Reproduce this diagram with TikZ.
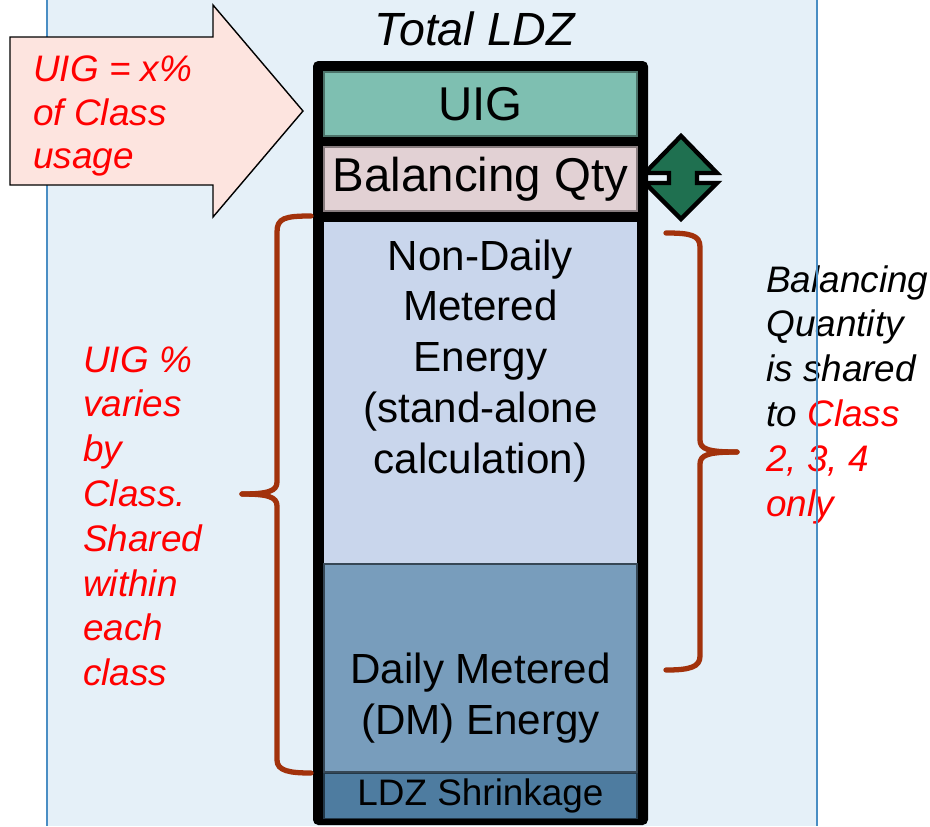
\documentclass[tikz,border=0pt]{standalone}
\usepackage{fontspec}
\setmainfont{Liberation Sans}
\definecolor{panelblue}{HTML}{E5F0F8}
\definecolor{panelline}{HTML}{4A8EC4}
\definecolor{uigteal}{HTML}{7EBFB1}
\definecolor{balpink}{HTML}{E2D1D4}
\definecolor{ndmblue}{HTML}{C9D6EC}
\definecolor{dmblue}{HTML}{789DBC}
\definecolor{shrblue}{HTML}{4E7CA0}
\definecolor{arrowpink}{HTML}{FDE4DF}
\definecolor{bracered}{HTML}{A2320C}
\definecolor{qtygreen}{HTML}{1F7050}
\begin{document}
\begin{tikzpicture}[x=0.02cm,y=-0.02cm,
	band/.style={rectangle,inner sep=0,minimum width=6.26cm,line width=1pt},
	note/.style={font=\fontsize{21pt}{25.5pt}\selectfont\itshape,align=left,anchor=north west,inner sep=0},
	brace/.style={draw=bracered,line width=3pt,line cap=round}]
	\useasboundingbox (0,0) rectangle (930,826);
	\fill[panelblue] (47,0) rectangle (817,826);
	\draw[panelline,line width=1pt] (47,0) -- (47,826);
	% column of quantities
	\fill[black,rounded corners=3pt] (313,61) rectangle (648,825);
	\node[band,fill=uigteal,draw=uigteal!60!black,minimum height=1.28cm,
		font=\fontsize{27pt}{32pt}\selectfont] (uig) at (480.5,104) {UIG};
	\node[band,fill=balpink,draw=balpink!60!black,minimum height=1.28cm,
		font=\fontsize{27pt}{32pt}\selectfont] (bal) at (480.5,179) {Balancing Qty};
	\node[band,fill=ndmblue,minimum height=6.84cm] (ndm) at (480.5,393) {};
	\node[align=center,font=\fontsize{24pt}{29pt}\selectfont] (ndmtext) at (480.5,361)
		{Non-Daily\\Metered\\Energy\\(stand-alone\\calculation)};
	\node[band,fill=dmblue,draw=dmblue!45!black,minimum height=4.16cm] (dm) at (480.5,668) {};
	\node[align=center,font=\fontsize{24pt}{29pt}\selectfont] (dmtext) at (480.5,698)
		{Daily Metered\\(DM) Energy};
	\node[band,fill=shrblue,draw=shrblue!45!black,minimum height=0.9cm,
		font=\fontsize{21pt}{25pt}\selectfont] (shr) at (480.5,796) {LDZ Shrinkage};
	\node[font=\fontsize{26.5pt}{30pt}\selectfont\itshape] (title) at (475,29) {Total LDZ};
	% big arrow
	\draw[fill=arrowpink,line width=0.8pt] (10,37) -- (213,37) -- (213,5) -- (303,111)
		-- (213,217) -- (213,185) -- (10,185) -- cycle;
	\node[note,text=red,font=\fontsize{21pt}{25pt}\selectfont\itshape] (uignote) at (33,55)
		{UIG = x\%\\of Class\\usage};
	% up and down arrow
	\draw[fill=qtygreen,line width=2.5pt,line join=miter] (681,136) -- (717,173) -- (697,173)
		-- (697,183) -- (717,183) -- (681,219) -- (645,183) -- (669,183) -- (669,173)
		-- (645,173) -- cycle;
	% braces
	\draw[brace] (311,216) .. controls (285,216) and (277,218) .. (277,232) -- (277,482)
		.. controls (277,491) and (268,494) .. (242,494);
	\draw[brace] (242,494) .. controls (268,494) and (277,497) .. (277,506) -- (277,760)
		.. controls (277,771) and (290,773) .. (311,773);
	\draw[brace] (666,233) .. controls (690,233) and (700,235) .. (700,247) -- (700,440)
		.. controls (700,449) and (708,452) .. (737,452);
	\draw[brace] (737,452) .. controls (708,452) and (700,455) .. (700,464) -- (700,656)
		.. controls (700,667) and (690,670) .. (666,670);
	\node[note,text=red] (classnote) at (83,346)
		{UIG \%\\varies\\by\\Class.\\Shared\\within\\each\\class};
	\node[note] (balnote) at (766,265)
		{Balancing\\Quantity\\is shared\\to \textcolor{red}{Class}\\\textcolor{red}{2, 3, 4}\\\textcolor{red}{only}};
	\draw[panelline,line width=1pt] (817,0) -- (817,826);
\end{tikzpicture}
\end{document}
